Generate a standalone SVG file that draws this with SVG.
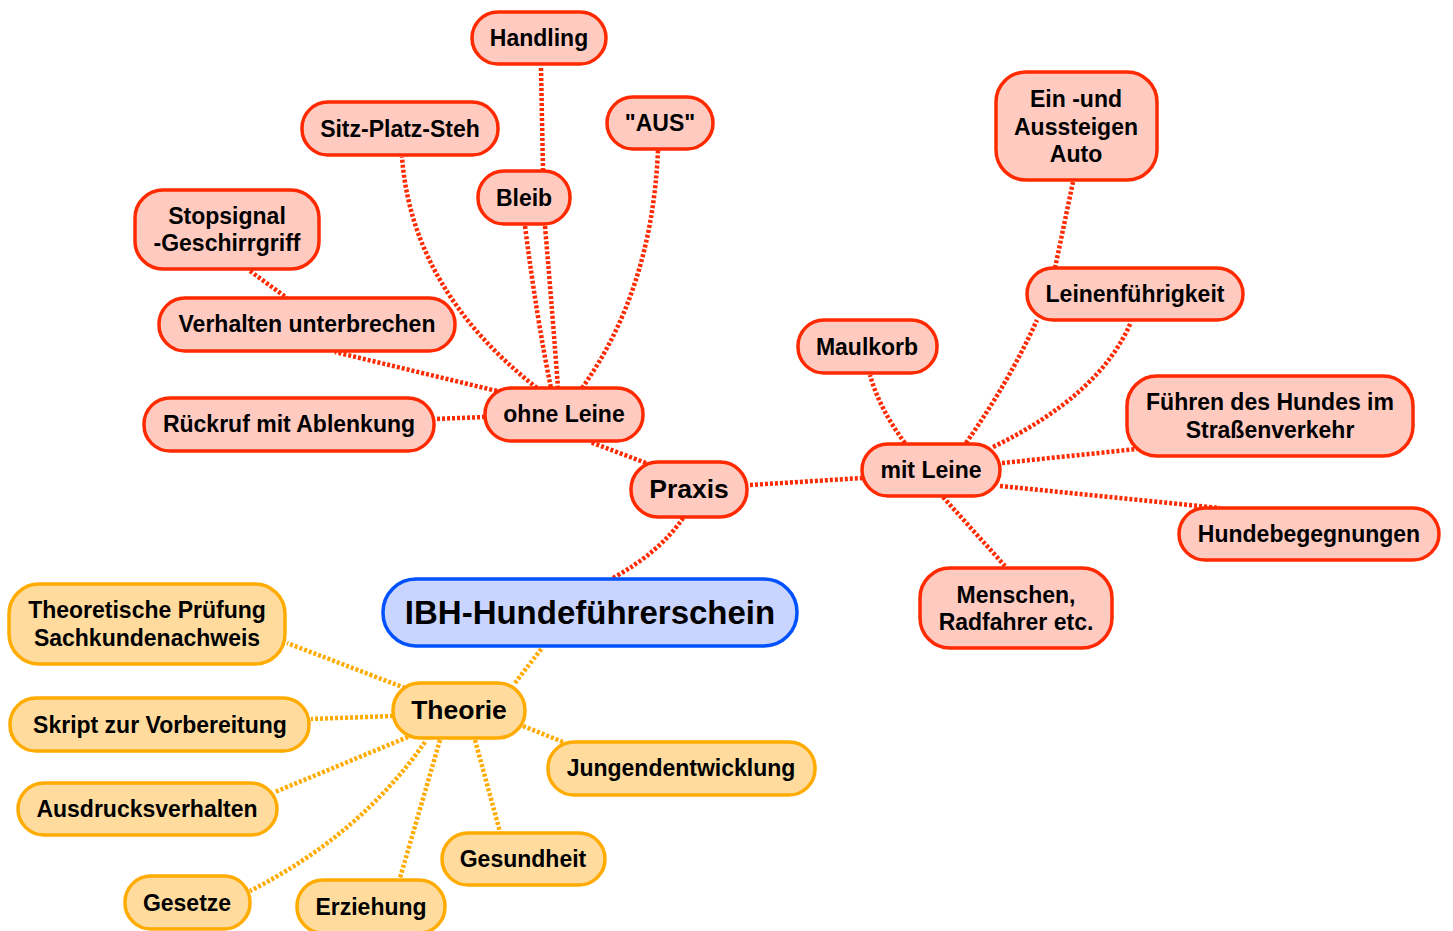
<svg xmlns="http://www.w3.org/2000/svg" width="1453" height="931" viewBox="0 0 1453 931">
<style>
.r rect{fill:#ffcbc1;stroke:#ff2a00;stroke-width:3.5}
.o rect{fill:#ffdc9e;stroke:#ffab00;stroke-width:3.5}
.b rect{fill:#c9d5ff;stroke:#0052ff;stroke-width:3.5}
text{font-family:"Liberation Sans",Arial,sans-serif;font-weight:bold;fill:#000;text-anchor:middle;font-size:23px}
.big{font-size:26.5px}
.huge{font-size:33px}
#connectors path{fill:none;stroke-width:4.5;stroke-dasharray:3 2}
.cr{stroke:#ff2a00}
.co{stroke:#ffab00}
</style>
<rect width="1453" height="931" fill="#fff"/>
<g id="connectors">
<path class="cr" d="M683,518 Q660,552 613,578"/>
<path class="co" d="M515,683 L542,648"/>
<path class="cr" d="M646,463 L590,442"/>
<path class="cr" d="M750,485 L862,478"/>
<path class="cr" d="M485,417 L434,419"/>
<path class="cr" d="M497,391 L335,352"/>
<path class="cr" d="M250,271 L287,298"/>
<path class="cr" d="M537,388 Q412,290 402,157"/>
<path class="cr" d="M525,226 Q537,320 551,388"/>
<path class="cr" d="M545,226 Q553,320 558,388"/>
<path class="cr" d="M541,68 L543,170"/>
<path class="cr" d="M582,388 Q652,290 658,150"/>
<path class="cr" d="M905,443 Q880,410 870,375"/>
<path class="cr" d="M966,443 Q1010,380 1037,320"/>
<path class="cr" d="M993,447 Q1100,395 1131,322"/>
<path class="cr" d="M1055,268 L1073,182"/>
<path class="cr" d="M1002,463 L1137,449"/>
<path class="cr" d="M1000,486 L1220,508"/>
<path class="cr" d="M943,497 L1005,566"/>
<path class="co" d="M405,688 L287,643"/>
<path class="co" d="M393,716 L311,719"/>
<path class="co" d="M523,726 L563,742"/>
<path class="co" d="M408,737 L275,792"/>
<path class="co" d="M425,742 Q360,835 250,891"/>
<path class="co" d="M440,740 L400,878"/>
<path class="co" d="M475,740 L500,832"/>
</g>
<g id="handling" class="r"><rect x="472" y="12" width="134" height="52" rx="26"/><text x="539" y="46">Handling</text></g>
<g id="sitz" class="r"><rect x="302" y="102" width="196" height="53" rx="26"/><text x="400" y="137">Sitz-Platz-Steh</text></g>
<g id="aus" class="r"><rect x="607" y="97" width="106" height="52" rx="26"/><text x="660" y="131">"AUS"</text></g>
<g id="bleib" class="r"><rect x="478" y="171" width="92" height="53" rx="26"/><text x="524" y="206">Bleib</text></g>
<g id="stopsignal" class="r"><rect x="135" y="190" width="184" height="79" rx="28"/><text x="227" y="224">Stopsignal</text><text x="227" y="251">-Geschirrgriff</text></g>
<g id="verhalten" class="r"><rect x="159" y="298" width="296" height="53" rx="26"/><text x="307" y="332">Verhalten unterbrechen</text></g>
<g id="rueckruf" class="r"><rect x="144" y="398" width="290" height="53" rx="26"/><text x="289" y="432">Rückruf mit Ablenkung</text></g>
<g id="ohneleine" class="r"><rect x="485" y="388" width="158" height="53" rx="26"/><text x="564" y="422">ohne Leine</text></g>
<g id="praxis" class="r"><rect x="631" y="462" width="116" height="55" rx="27"/><text class="big" x="689" y="498">Praxis</text></g>
<g id="root" class="b"><rect x="383" y="579" width="414" height="67" rx="33"/><text class="huge" x="590" y="624">IBH-Hundeführerschein</text></g>
<g id="mitleine" class="r"><rect x="862" y="444" width="138" height="52" rx="26"/><text x="931" y="478">mit Leine</text></g>
<g id="maulkorb" class="r"><rect x="798" y="320" width="139" height="53" rx="26"/><text x="867" y="355">Maulkorb</text></g>
<g id="leinenfuehrigkeit" class="r"><rect x="1027" y="268" width="216" height="52" rx="26"/><text x="1135" y="302">Leinenführigkeit</text></g>
<g id="einund" class="r"><rect x="996" y="72" width="161" height="108" rx="30"/><text x="1076" y="107">Ein -und</text><text x="1076" y="135">Aussteigen</text><text x="1076" y="162">Auto</text></g>
<g id="fuehren" class="r"><rect x="1127" y="376" width="286" height="80" rx="30"/><text x="1270" y="410">Führen des Hundes im</text><text x="1270" y="438">Straßenverkehr</text></g>
<g id="hundebegegnungen" class="r"><rect x="1179" y="508" width="260" height="52" rx="26"/><text x="1309" y="542">Hundebegegnungen</text></g>
<g id="menschen" class="r"><rect x="920" y="568" width="192" height="80" rx="30"/><text x="1016" y="603">Menschen,</text><text x="1016" y="630">Radfahrer etc.</text></g>
<g id="theoretische" class="o"><rect x="9" y="584" width="276" height="80" rx="30"/><text x="147" y="618">Theoretische Prüfung</text><text x="147" y="646">Sachkundenachweis</text></g>
<g id="theorie" class="o"><rect x="393" y="683" width="132" height="55" rx="27"/><text class="big" x="459" y="719">Theorie</text></g>
<g id="skript" class="o"><rect x="10" y="698" width="299" height="53" rx="26"/><text x="160" y="733">Skript zur Vorbereitung</text></g>
<g id="jungend" class="o"><rect x="548" y="742" width="267" height="53" rx="26"/><text x="681" y="776">Jungendentwicklung</text></g>
<g id="ausdruck" class="o"><rect x="18" y="783" width="259" height="52" rx="26"/><text x="147" y="817">Ausdrucksverhalten</text></g>
<g id="gesundheit" class="o"><rect x="442" y="833" width="163" height="52" rx="26"/><text x="523" y="867">Gesundheit</text></g>
<g id="gesetze" class="o"><rect x="125" y="876" width="125" height="53" rx="26"/><text x="187" y="911">Gesetze</text></g>
<g id="erziehung" class="o"><rect x="297" y="880" width="148" height="53" rx="26"/><text x="371" y="915">Erziehung</text></g>
</svg>
